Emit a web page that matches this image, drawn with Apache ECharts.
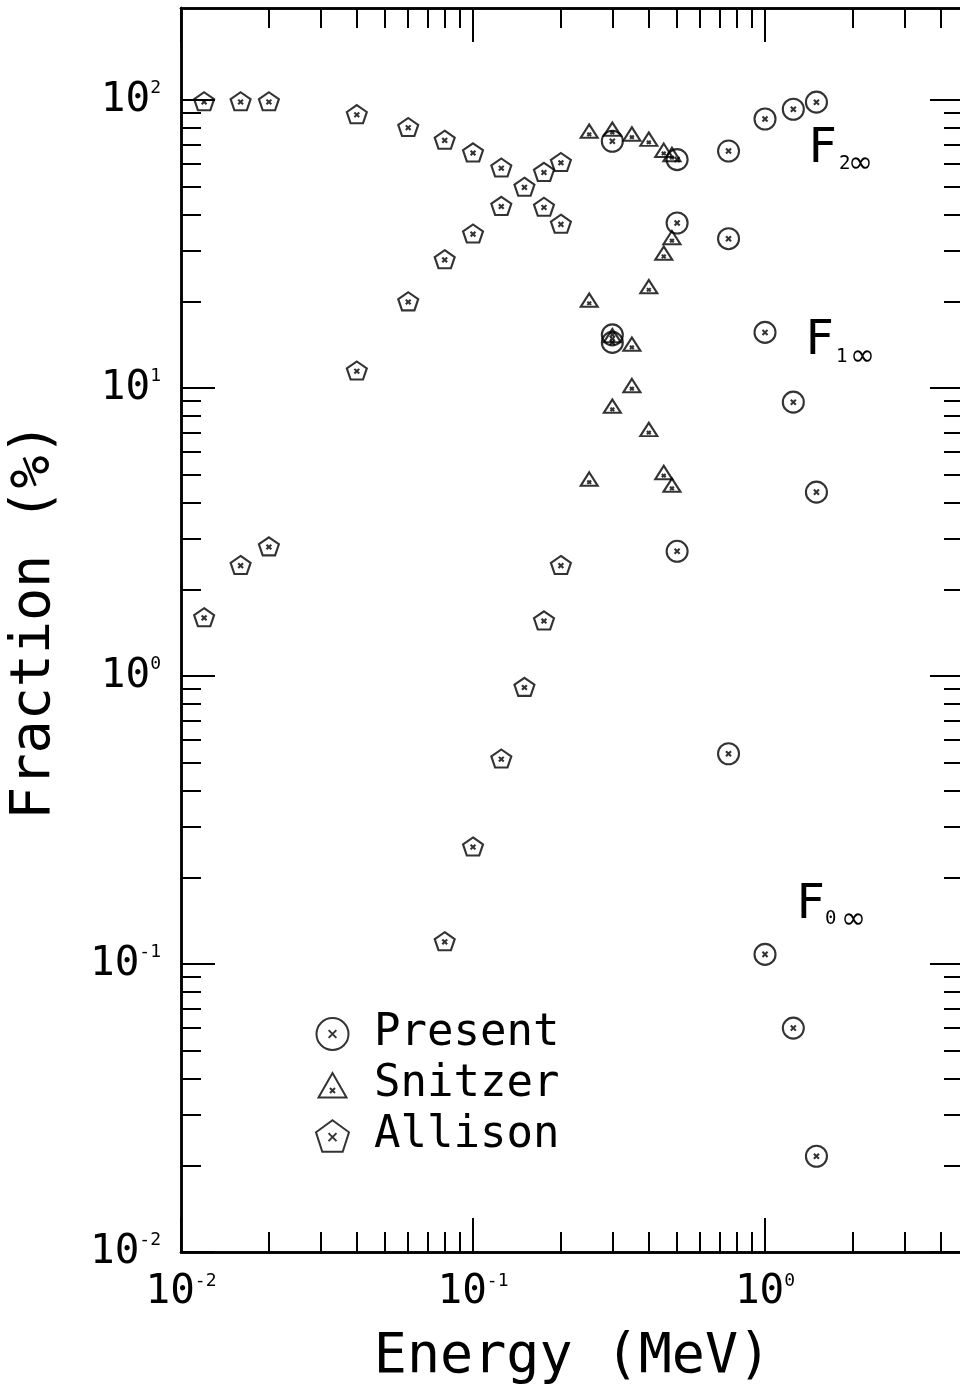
<!DOCTYPE html>
<html>
<head>
<meta charset="utf-8">
<script src="https://cdn.jsdelivr.net/npm/echarts@6/dist/echarts.min.js"></script>
<style>
html,body{margin:0;padding:0;background:#fff;}
#chart{width:960px;height:1390px;}
</style>
</head>
<body>
<div id="chart"></div>
<script>
// ---------------- data ----------------
const energyPresent = [0.3, 0.5, 0.75, 1.0, 1.25, 1.5];
const presentF2 = [71.9, 62.1, 66.5, 85.9, 92.9, 98.3];
const presentF1 = [15.3, 37.4, 33.0, 15.6, 8.93, 4.35];
const presentF0 = [14.4, 2.71, 0.537, 0.108, 0.0599, 0.0215];

const energySnitzer = [0.25, 0.30, 0.35, 0.40, 0.45, 0.48];
const snitzerF2 = [78.0, 79.2, 76.2, 73.1, 66.9, 64.7];
const snitzerF1 = [20.2, 15.2, 14.2, 22.5, 29.4, 33.3];
const snitzerF0 = [4.83, 8.65, 10.2, 7.18, 5.09, 4.60];

const energyAllison = [0.012, 0.016, 0.02, 0.04, 0.06, 0.08, 0.1, 0.125, 0.15, 0.175, 0.2];
const allisonF1 = [99, 99, 99, 89.3, 80.6, 72.8, 65.8, 58.3, 50.0, 42.6, 37.2];
const allisonF2 = [1.60, 2.43, 2.82, 11.5, 20.0, 28.0, 34.4, 42.9, null, 56.3, 60.9];
const allisonF0 = [null, null, null, null, null, 0.12, 0.256, 0.517, 0.917, 1.56, 2.43];

const seriesNames = ['Present', 'Snitzer', 'Allison'];
const curveLabels = [
  { main: 'F', sub: '2', inf: '\u221E' },
  { main: 'F', sub: '1', inf: '\u221E' },
  { main: 'F', sub: '0', inf: '\u221E' }
];

const xMajorTicks = [0.01, 0.1, 1];
const xMinorTicks = [0.02, 0.03, 0.04, 0.05, 0.06, 0.07, 0.08, 0.09,
                     0.2, 0.3, 0.4, 0.5, 0.6, 0.7, 0.8, 0.9, 2, 3, 4];
const yMajorTicks = [0.01, 0.1, 1, 10, 100];
const yMinorTicks = [0.02, 0.03, 0.04, 0.05, 0.06, 0.07, 0.08, 0.09,
                     0.2, 0.3, 0.4, 0.5, 0.6, 0.7, 0.8, 0.9,
                     2, 3, 4, 5, 6, 7, 8, 9,
                     20, 30, 40, 50, 60, 70, 80, 90];
const xRange = [0.01, 4.802];
const yRange = [0.01, 208.7];
const xTitle = 'Energy (MeV)';
const yTitle = 'Fraction (%)';

// ---------------- helpers ----------------
const MONO = '"DejaVu Sans Mono", monospace';
const SYM_CIRCLE = 'path://M0,10 A10,10 0 1,0 20,10 A10,10 0 1,0 0,10 Z M7.6,7.6 L12.4,12.4 M12.4,7.6 L7.6,12.4';
const SYM_TRI = 'path://M10,1 L19,17 L1,17 Z M8,10.8 L12,14.8 M12,10.8 L8,14.8';
const SYM_PENT = 'path://M10,0 L19.51,6.91 L15.88,18.09 L4.12,18.09 L0.49,6.91 Z M7.7,7.4 L12.3,12 M12.3,7.4 L7.7,12';
const SYM_TRI_LEGEND = 'path://M0,0 M33,32 M16.5,4 L30.5,28.5 L2.5,28.5 Z M14,19 L19,24 M19,19 L14,24';

function pairs(xs, ys) {
  const out = [];
  xs.forEach((x, i) => { if (ys[i] != null) out.push([x, ys[i]]); });
  return out;
}
function powLabel(v) {
  const e = Math.round(Math.log10(v));
  return '{b|10}{s|' + e + '}';
}
const labelRich = {
  b: { fontFamily: MONO, fontSize: 41, lineHeight: 41, color: '#000' },
  s: { fontFamily: MONO, fontSize: 18, lineHeight: 18, verticalAlign: 'top', color: '#000' }
};

function makeAxis(pos, range, ticks, len, labels, extra) {
  const ax = {
    type: 'log', logBase: 10, min: range[0], max: range[1], position: pos, gridIndex: 0,
    axisLine: { show: true, onZero: false, lineStyle: { color: '#000', width: 2.5 } },
    axisTick: { show: true, inside: true, length: len, customValues: ticks,
                lineStyle: { color: '#000', width: 2 } },
    axisLabel: labels ? {
      show: true, customValues: ticks, margin: 20, formatter: powLabel, rich: labelRich
    } : { show: false },
    splitLine: { show: false },
    minorTick: { show: false },
    minorSplitLine: { show: false }
  };
  return Object.assign(ax, extra || {});
}

const chart = echarts.init(document.getElementById('chart'), null, { renderer: 'canvas' });

const itemStyle = { color: 'rgba(0,0,0,0)', borderColor: '#000', borderWidth: 2.1 };

function curveText(lbl, x, y, subX, subY, infX, infY) {
  return [
    { type: 'text', x: x, y: y, style: { text: lbl.main, font: '48px ' + MONO, fill: '#000', align: 'left', verticalAlign: 'middle' } },
    { type: 'text', x: subX, y: subY, style: { text: lbl.sub, font: '19px ' + MONO, fill: '#000', align: 'left', verticalAlign: 'middle' } },
    { type: 'text', x: infX, y: infY, style: { text: lbl.inf, font: '30px "DejaVu Sans"', fill: '#000', align: 'left', verticalAlign: 'middle' } }
  ];
}

const option = {
  backgroundColor: '#fff',
  animation: false,
  grid: { left: 181, top: 8, width: 783, height: 1244, containLabel: false, outerBoundsMode: 'none' },
  xAxis: [
    makeAxis('bottom', xRange, xMajorTicks, 34, true, {
      name: xTitle, nameLocation: 'middle', nameGap: 78,
      nameTextStyle: { fontFamily: MONO, fontSize: 55, lineHeight: 55, color: '#000' }
    }),
    makeAxis('bottom', xRange, xMinorTicks, 20, false),
    makeAxis('top', xRange, xMajorTicks, 34, false),
    makeAxis('top', xRange, xMinorTicks, 20, false)
  ],
  yAxis: [
    makeAxis('left', yRange, yMajorTicks, 34, true, {
      name: yTitle, nameLocation: 'middle', nameGap: 120, nameRotate: 90,
      nameTextStyle: { fontFamily: MONO, fontSize: 55, lineHeight: 52, color: '#000', padding: [0, 0, 0, 18] }
    }),
    makeAxis('left', yRange, yMinorTicks, 20, false),
    makeAxis('right', yRange, yMajorTicks, 34, false),
    makeAxis('right', yRange, yMinorTicks, 20, false)
  ],
  legend: {
    data: [
      { name: seriesNames[0] },
      { name: seriesNames[1], icon: SYM_TRI_LEGEND },
      { name: seriesNames[2] }
    ],
    orient: 'vertical',
    left: 310, top: 1007,
    itemWidth: 33, itemHeight: 32, itemGap: 7,
    itemStyle: { color: 'rgba(0,0,0,0)', borderColor: '#000', borderWidth: 2 },
    textStyle: { fontFamily: MONO, fontSize: 44, lineHeight: 32, color: '#000', padding: [0, 0, 0, 20] },
    selectedMode: false
  },
  series: [
    {
      name: seriesNames[0], type: 'scatter', xAxisIndex: 0, yAxisIndex: 0,
      symbol: SYM_CIRCLE, symbolSize: 21, symbolKeepAspect: true,
      itemStyle: itemStyle, emphasis: { disabled: true }, silent: true,
      data: [].concat(pairs(energyPresent, presentF2), pairs(energyPresent, presentF1), pairs(energyPresent, presentF0))
    },
    {
      name: seriesNames[1], type: 'scatter', xAxisIndex: 0, yAxisIndex: 0,
      symbol: SYM_TRI, symbolSize: [17, 15], symbolKeepAspect: true,
      itemStyle: itemStyle, emphasis: { disabled: true }, silent: true,
      data: [].concat(pairs(energySnitzer, snitzerF2), pairs(energySnitzer, snitzerF1), pairs(energySnitzer, snitzerF0))
    },
    {
      name: seriesNames[2], type: 'scatter', xAxisIndex: 0, yAxisIndex: 0,
      symbol: SYM_PENT, symbolSize: [20, 19], symbolKeepAspect: true,
      itemStyle: itemStyle, emphasis: { disabled: true }, silent: true,
      data: [].concat(pairs(energyAllison, allisonF1), pairs(energyAllison, allisonF2), pairs(energyAllison, allisonF0))
    }
  ],
  graphic: [].concat(
    curveText(curveLabels[0], 808, 150, 839, 164, 848, 164),
    curveText(curveLabels[1], 805, 342, 836, 357, 850, 357),
    curveText(curveLabels[2], 796, 906, 825, 919, 841, 920)
  )
};
chart.setOption(option);
</script>
</body>
</html>
